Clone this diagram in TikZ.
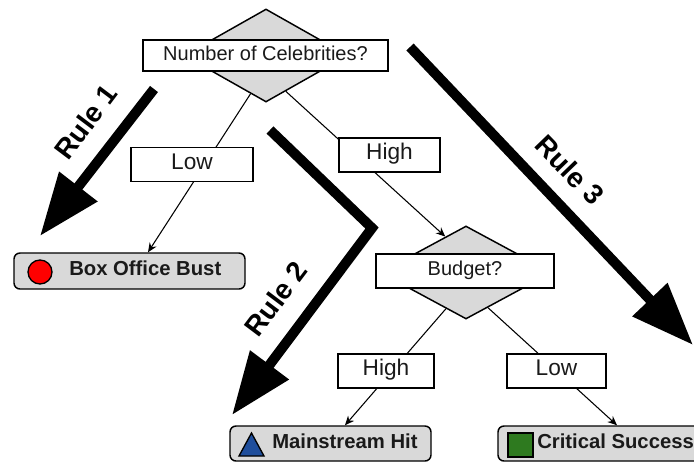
\documentclass[tikz,border=0pt]{standalone}
\usepackage{fontspec}
\setmainfont{Liberation Sans}
\usetikzlibrary{shapes.geometric,arrows.meta,calc,backgrounds}
\definecolor{diagray}{HTML}{D9D9D9}
\definecolor{leafgray}{HTML}{D9D9D9}
\definecolor{txt}{HTML}{1A1A1A}
\definecolor{iconred}{HTML}{FF0000}
\definecolor{iconblue}{HTML}{1F4E9C}
\definecolor{icongreen}{HTML}{2E7A1F}
\begin{document}
\begin{tikzpicture}[x=0.75pt,y=-0.75pt,
  dia/.style={diamond,draw=black,line width=1.1pt,fill=diagray,inner sep=0pt},
  qbox/.style={rectangle,draw=black,line width=1.1pt,fill=white,inner sep=0pt,text=txt,
    font=\fontsize{15}{18}\selectfont,text height=0.72em,text depth=0pt},
  lbl/.style={rectangle,draw=black,line width=1.1pt,fill=white,inner sep=0pt,text=txt,
    font=\fontsize{17}{20}\selectfont,text height=0.72em,text depth=0pt,minimum height=25.5pt},
  leaf/.style={rectangle,rounded corners=4.5pt,draw=black,line width=1.1pt,fill=leafgray,inner sep=0pt},
  leaftext/.style={inner sep=0pt,anchor=west,text=txt,font=\fontsize{15.2}{18}\selectfont\bfseries,
    text height=0.72em,text depth=0pt},
  conn/.style={line width=0.8pt,-{Stealth[length=7pt,width=6pt]}},
  big/.style={line width=7.5pt,line join=miter,-{Triangle[length=47pt,width=34.5pt]}},
  ruletext/.style={inner sep=0pt,text=black,font=\fontsize{21}{25}\selectfont\bfseries}
]
\useasboundingbox (0,0) rectangle (694,462);

% decision diamonds with question boxes
\node[dia,minimum width=123pt,minimum height=69.75pt] (d1) at (266,55.5) {};
\node[qbox,minimum width=183.75pt,minimum height=23.25pt] (q1) at (265.5,55.5) {Number of Celebrities?};
\node[dia,minimum width=129pt,minimum height=69.75pt] (d2) at (466,272.5) {};
\node[qbox,minimum width=133.5pt,minimum height=25.5pt] (q2) at (465,271) {Budget?};

% edge labels
\node[lbl,minimum width=91.5pt] (low1) at (192,164.5) {Low};
\node[lbl,minimum width=75.75pt] (high1) at (389.5,155) {High};
\node[lbl,minimum width=72pt] (high2) at (386,371) {High};
\node[lbl,minimum width=74.25pt] (low2) at (556.5,371) {Low};

% leaves
\node[leaf,minimum width=173.25pt,minimum height=27pt] (bust) at (129.5,271) {};
\node[circle,draw=black,line width=1pt,fill=iconred,minimum size=18pt,inner sep=0pt] (icbust) at (40,272) {};
\node[leaftext] (tbust) at (69,271) {Box Office Bust};

\node[leaf,minimum width=150.75pt,minimum height=26.25pt] (hit) at (330.5,443.5) {};
\draw[line width=1pt,fill=iconblue] (239,456) -- (251.5,433) -- (264,456) -- cycle;
\node[leaftext] (thit) at (272,443.5) {Mainstream Hit};

\node[leaf,minimum width=166.5pt,minimum height=26.25pt] (crit) at (609,443.5) {};
\node[rectangle,draw=black,line width=1pt,fill=icongreen,minimum width=18.75pt,minimum height=18pt,inner sep=0pt] (iccrit) at (520.5,445) {};
\node[leaftext] (tcrit) at (537,443.5) {Critical Success};

% rule arrows
\coordinate (r1s) at (154,89);
\coordinate (r1e) at (40,236);
\draw[big] (r1s) -- (r1e);
\node[ruletext,rotate=53] (rule1) at (86,122) {Rule 1};

\coordinate (r2s) at (270,130);
\coordinate (r2m) at (372,228);
\coordinate (r2e) at (232,415);
\draw[big] (r2s) -- (r2m) -- (r2e);
\node[ruletext,rotate=53] (rule2) at (276,299) {Rule 2};

\coordinate (r3s) at (410,47);
\coordinate (r3e) at (693,345);
\draw[big] (r3s) -- (r3e);
\node[ruletext,rotate=-46] (rule3) at (570,170) {Rule 3};

% connectors behind boxes
\begin{scope}[on background layer]
\fill[white] (0,0) rectangle (694,462);
\draw[conn] (d1.248) -- ($(bust.north)+(18.5,0)$);
\draw[conn] (d1.-61) -- (d2.120);
\draw[conn] (d2.241) -- ($(hit.north)+(14.5,0)$);
\draw[conn] (d2.-58) -- ($(crit.north)+(8,0)$);
\end{scope}
\end{tikzpicture}
\end{document}
